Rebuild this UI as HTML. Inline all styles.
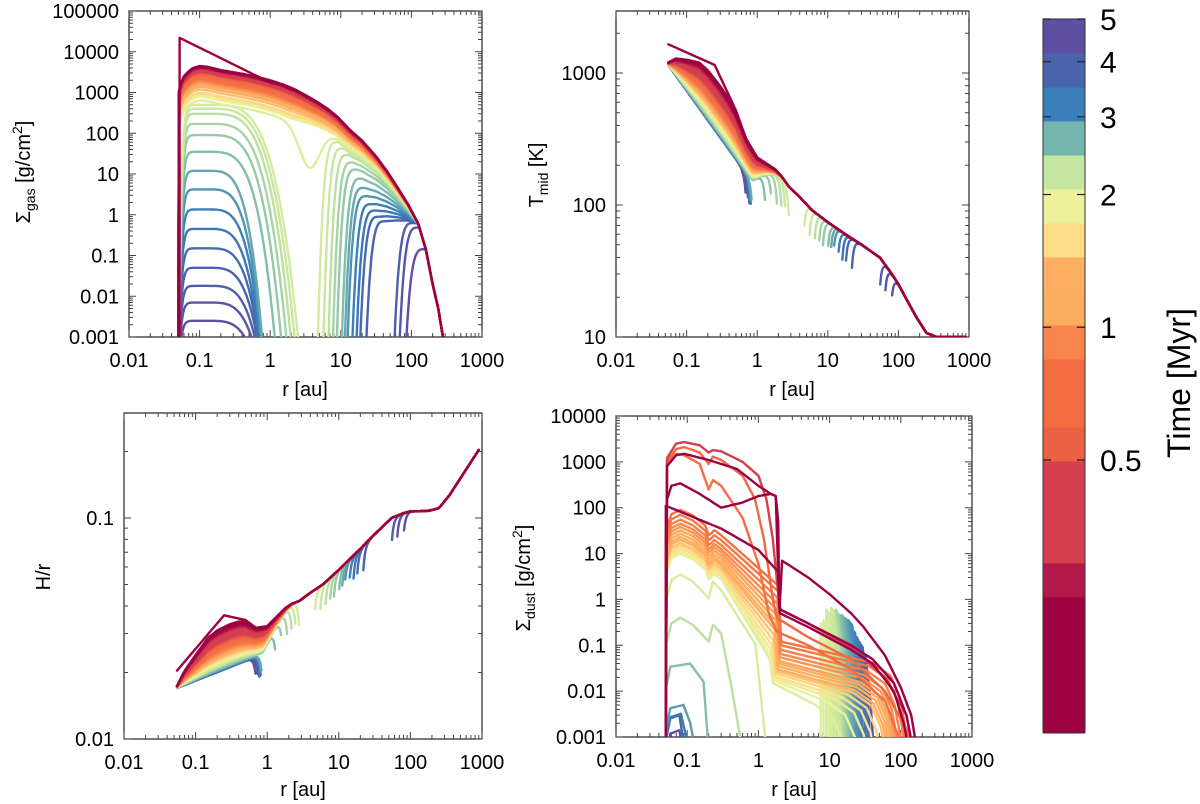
<!DOCTYPE html>
<html><head><meta charset="utf-8"><style>
html,body{margin:0;padding:0;background:#fff;}
svg{display:block;font-family:"Liberation Sans",Arial,sans-serif;}
</style></head><body>
<svg id="chart" width="1200" height="804" viewBox="0 0 1200 804" xmlns="http://www.w3.org/2000/svg">
<rect x="0" y="0" width="1200" height="804" fill="#fff"/>
<defs>
<clipPath id="c1"><rect x="129" y="11" width="353" height="326"/></clipPath>
<clipPath id="c2"><rect x="616" y="11" width="353" height="326"/></clipPath>
<clipPath id="c3"><rect x="124" y="413" width="358" height="326"/></clipPath>
<clipPath id="c4"><rect x="616" y="416" width="356" height="321"/></clipPath>
</defs>
<text x="30" y="172" font-size="20" text-anchor="middle" transform="rotate(-90 30 172)">Σ<tspan font-size="14" dy="5">gas</tspan><tspan dy="-5"> [g/cm</tspan><tspan font-size="14" dy="-8">2</tspan><tspan dy="8">]</tspan></text>
<text x="543" y="175" font-size="20" text-anchor="middle" transform="rotate(-90 543 175)">T<tspan font-size="14" dy="5">mid</tspan><tspan dy="-5"> [K]</tspan></text>
<text x="50" y="577" font-size="20" text-anchor="middle" transform="rotate(-90 50 577)">H/r</text>
<text x="530" y="578" font-size="20" text-anchor="middle" transform="rotate(-90 530 578)">Σ<tspan font-size="14" dy="5">dust</tspan><tspan dy="-5"> [g/cm</tspan><tspan font-size="14" dy="-8">2</tspan><tspan dy="8">]</tspan></text>
<text x="305" y="396" font-size="20" text-anchor="middle">r [au]</text>
<text x="792" y="396" font-size="20" text-anchor="middle">r [au]</text>
<text x="303" y="796" font-size="20" text-anchor="middle">r [au]</text>
<text x="794" y="796" font-size="20" text-anchor="middle">r [au]</text>
<text x="1190" y="383" font-size="32" text-anchor="middle" transform="rotate(-90 1190 383)">Time [Myr]</text>
</svg>
<script>
// ---------- data ----------
const cbColors = ['#9e0142','#9e0142','#9e0142','#9e0142','#b3184b','#d53e4f','#d53e4f','#d53e4f','#ec6146','#f46d43','#f46d43','#f7844d','#fcae60','#fdae61','#fddc87','#ecf29b','#c5e6a0','#74b5ad','#3a7fb9','#4a63ad','#5e4fa2'];
const cbTickVals = [5,4,3,2,1,0.5];
const cbTickLabels = ['5','4','3','2','1','0.5'];

// gas envelope (log10 values)
const envR1 = [0.05,0.0502,0.055,0.06,0.07,0.08,0.1,0.13,0.2,0.3,0.5,0.7,1,1.5,2.2,3.2,4.6,6.5,9,13.5,20,32,45,63,90,125,160,200,240,280,330];
const envL1 = [-4,3.0,3.25,3.4,3.52,3.6,3.65,3.63,3.55,3.5,3.43,3.37,3.3,3.2,3.08,2.93,2.77,2.6,2.4,2.08,1.82,1.42,1.07,0.68,0.25,-0.22,-0.85,-1.7,-2.3,-3,-4];
const gasInitR = [0.052,0.0521,1,1.5,2.2,3.2,4.6,6.5,9,13.5,20,32,45,63,90,125,160,200,240,280,330];
const gasInitV = [1e-4,22000,1750,1585,1200,850,590,400,250,120,66,26,11.7,4.8,1.78,0.6,0.14,0.02,0.005,0.001,1e-4];
const gasTimes = [0.15,0.2,0.25,0.3,0.35,0.4,0.45,0.5,0.6,0.7,0.8,0.9,1.0,1.1,1.25,1.4,1.55,1.7,1.85,2.0,2.1,2.2,2.3,2.4,2.5,2.6,2.8,3.0,3.2,3.4,3.6,3.8,4.0,4.3,4.6];
const gasPeak = [4500,4300,4100,3900,3700,3500,3300,3100,2800,2500,2200,2000,1800,1600,1400,1200,1000,900,800,650,500,400,300,170,90,35,12,4.2,1.35,0.45,0.15,0.05,0.018,0.007,0.0025];
const gapIn = [0,0,0,0,0,0,0,0,0,0,0,0,0,0,0,0,0,0,0,3.6,2.8,2.5,2.2,1.9,1.6,1.3,0.85,0.83,0.82,0.8,0.8,0.8,0.78,0.75,0.7];
const gapOut = [0,0,0,0,0,0,0,0,0,0,0,0,0,0,0,0,0,0,0,3.6,4.6,5.5,6.5,7.5,8.5,10,11,12,14,16,18,22,55,65,80];
const gapDepth = [0,0,0,0,0,0,0,0,0,0,0,0,0,0,0,0,0,0,0,1.0,9,9,9,9,9,9,9,9,9,9,9,9,9,9,9];

// temperature (log10 values)
const tempEnvR = [0.055,0.07,0.1,0.15,0.2,0.3,0.4,0.5,0.7,1,1.3,1.8,2.2,2.8,4,6,10,20,30,55,80,100,132,180,250,350,900];
const tempEnvL = [3.08,3.11,3.1,3.08,3.02,2.9,2.8,2.7,2.5,2.36,2.32,2.27,2.22,2.14,2.06,1.96,1.87,1.76,1.7,1.6,1.48,1.4,1.28,1.15,1.03,1.0,1.0];
const tempLateR = [0.055,0.85];
const tempLateT = [1150,150];
const tempInitR = [0.055,0.25,0.5,0.7,1,1.3,1.8,2.2,2.8,4,6,10,20,30,55,80,100,132,180,250,350,900];
const tempInitT = [1650,1150,520,316,229,209,186,166,138,115,91,74,57,50,40,30,25,19,14,10.7,10,10];
const tempBlend = [0,0.05,0.1,0.15,0.2,0.25,0.3,0.35,0.4,0.45,0.5,0.55,0.6,0.63,0.66,0.7,0.73,0.76,0.8,0.82,0.84,0.86,0.88,0.9,0.92,0.94,0.96,0.97,0.98,0.99,1,1,1,1,1];
const hrCoef = [0.00214];

// dust
const dustInit0 = [[0.05,0.0005],[0.0501,110],[0.3,35],[1,12],[1.9,4],[2.0,0.8],[2.15,7],[5,3],[10,1.3],[20,0.5],[30,0.25],[60,0.06],[100,0.012],[140,0.003],[170,0.0005]];
const dustRed1 = [[0.05,0.0005],[0.052,800],[0.07,1400],[0.09,1500],[0.2,1100],[0.5,700],[1,300],[1.5,200],[1.75,180],[1.9,50],[1.95,2],[2.0,0.7],[2.05,0.6],[5,0.3],[20,0.1],[40,0.05],[80,0.015],[120,0.003],[150,0.0005]];
const dustRed2 = [[0.05,0.0005],[0.052,150],[0.06,300],[0.08,340],[0.15,200],[0.3,100],[0.6,130],[1.0,180],[1.5,200],[1.75,180],[1.95,1],[2.0,0.5],[5,0.25],[20,0.08],[40,0.04],[80,0.01],[110,0.002],[130,0.0005]];
const dustRed3 = [[0.05,0.0005],[0.052,1200],[0.07,2500],[0.09,2700],[0.15,2300],[0.2,1600],[0.23,1800],[0.3,1700],[0.6,1000],[1,500],[1.3,150],[1.6,20],[1.8,3],[2,0.6],[5,0.3],[20,0.09],[60,0.02],[120,0.003],[150,0.0005]];
const dustRed4 = [[0.05,0.0005],[0.052,1000],[0.07,1900],[0.09,2100],[0.15,1600],[0.2,900],[0.23,1300],[0.3,1100],[0.6,500],[0.9,150],[1.2,20],[1.6,1],[1.8,0.4],[5,0.15],[20,0.05],[60,0.01],[120,0.0015],[140,0.0005]];
const dustRed5 = [[0.05,0.0005],[0.052,900],[0.07,1500],[0.09,1400],[0.15,900],[0.2,250],[0.23,400],[0.3,300],[0.6,60],[1,6],[1.4,0.5],[1.8,0.2],[5,0.1],[20,0.03],[60,0.006],[110,0.0005]];
const dustRedTimes = [0.12,0.13,0.14,0.45,0.6,0.7];
const dustAT = [0.8,0.85,0.9,0.95,1.0,1.07,1.15,1.23,1.32,1.42,1.52,1.63,1.75,1.87,2.0];
const dustAP = [90,70,55,45,38,32,27,23,20,17,15,13,11.5,10.5,10];
const dustAR1 = [1.9,1.9,1.85,1.85,1.8,1.8,1.75,1.7,1.7,1.65,1.6,1.55,1.5,1.5,1.45];
const dustAV1 = [2,1.5,1.1,0.8,0.6,0.45,0.35,0.28,0.22,0.17,0.13,0.1,0.08,0.06,0.05];
const dustAV2 = [0.12,0.1,0.08,0.065,0.055,0.045,0.04,0.035,0.03,0.027,0.024,0.021,0.019,0.017,0.015];
const dustAEnd = [130,120,110,100,95,90,85,80,75,70,60,50,40,30,20];
const domeT = [2.05,2.3,2.6,2.9,3.3,3.8,4.4];
const domeP = [3.5,0.4,0.04,0.005,0.0032,0.003,0.0014];
const domeEnd = [1.3,0.6,0.2,0.13,0.11,0.1,0.1];
const ringR = [7.5,8.2,9,9.8,10.6,11.4,12.2,13,14,15,16,17,18.5,20,22,24,26,28,31];
const ringH = [0.3,0.35,0.6,0.5,0.65,0.55,0.6,0.5,0.45,0.45,0.4,0.38,0.35,0.3,0.2,0.15,0.12,0.1,0.06];
const ringT = [2.0,2.05,2.1,2.15,2.2,2.3,2.4,2.5,2.6,2.7,2.8,2.9,3.0,3.1,3.2,3.4,3.6,3.9,4.3];

// ---------- helpers ----------
const NS='http://www.w3.org/2000/svg';
const svg=document.getElementById('chart');
const L=Math.log10;
function mk(tag, attrs, parent){const e=document.createElementNS(NS,tag);for(const k in attrs)e.setAttribute(k,attrs[k]);(parent||svg).appendChild(e);return e;}
function hex(c){return [parseInt(c.substr(1,2),16),parseInt(c.substr(3,2),16),parseInt(c.substr(5,2),16)];}
function tColor(t){
  let p=(L(t)-L(0.12))/(L(5)-L(0.12)); p=Math.max(0,Math.min(1,p));
  let f=p*21-0.5; f=Math.max(0,Math.min(20,f)); const i=Math.min(19,Math.floor(f)); const w=f-i;
  const a=hex(cbColors[i]), b=hex(cbColors[i+1]);
  return 'rgb('+a.map((v,k)=>Math.round(v+(b[k]-v)*w)).join(',')+')';
}
function interpL(xs, ls, r){ // xs radii, ls log10 values; returns log10
  if(r<=xs[0]) return ls[0];
  if(r>=xs[xs.length-1]) return ls[ls.length-1];
  const lr=L(r);
  for(let i=0;i<xs.length-1;i++){
    if(r>=xs[i]&&r<=xs[i+1]){const a=L(xs[i]),b=L(xs[i+1]);const w=b>a?(lr-a)/(b-a):0;return ls[i]+w*(ls[i+1]-ls[i]);}
  }
  return ls[ls.length-1];
}
function interpLog(xs, ys, r){return Math.pow(10,interpL(xs,ys.map(L),r));}
function logGrid(r0,r1,n){const a=[];for(let i=0;i<=n;i++)a.push(Math.pow(10,L(r0)+(L(r1)-L(r0))*i/n));return a;}
function densify(pts){const out=[];for(let i=0;i<pts.length-1;i++){const [r0,v0]=pts[i],[r1,v1]=pts[i+1];const n=6;for(let k=0;k<n;k++){const w=k/n;out.push([Math.pow(10,L(r0)+w*(L(r1)-L(r0))),Math.pow(10,L(v0)+w*(L(v1)-L(v0)))]);}}out.push(pts[pts.length-1]);return out;}

const panels={
 gas:{x0:129,x1:482,y0:11,y1:337,lx0:-2,lx1:3,ly0:-3,ly1:5,clip:'c1'},
 temp:{x0:616,x1:969,y0:11,y1:337,lx0:-2,lx1:3,ly0:1,ly1:1+326/132,clip:'c2'},
 hr:{x0:124,x1:482,y0:413,y1:739,lx0:-2,lx1:3,ly0:-2,ly1:-1+105/221,clip:'c3'},
 dust:{x0:616,x1:972,y0:416,y1:737,lx0:-2,lx1:3,ly0:-3,ly1:4,clip:'c4'}
};
function sx(p,r){return p.x0+(L(r)-p.lx0)/(p.lx1-p.lx0)*(p.x1-p.x0);}
function sy(p,v){v=Math.max(v,1e-8);return p.y1-(L(v)-p.ly0)/(p.ly1-p.ly0)*(p.y1-p.y0);}
function fmt(k){return k<0?Math.pow(10,k).toFixed(-k):String(Math.round(Math.pow(10,k)));}

function drawAxes(name,p){
  const g=mk('g',{});
  
  
  const box=mk('rect',{x:p.x0,y:p.y0,width:p.x1-p.x0,height:p.y1-p.y0,fill:'none',stroke:'#222','stroke-width':1.2},g);
  
  
  let d='';
  for(let k=Math.floor(p.lx0);k<=Math.ceil(p.lx1);k++){
    for(let m=1;m<10;m++){
      const lv=k+L(m); if(lv<p.lx0-1e-9||lv>p.lx1+1e-9) continue;
      const x=sx(p,Math.pow(10,lv)); const len=m===1?7:4;
      d+=`M${x},${p.y1}v${-len}M${x},${p.y0}v${len}`;
    }
  }
  for(let k=Math.floor(p.ly0);k<=Math.ceil(p.ly1);k++){
    for(let m=1;m<10;m++){
      const lv=k+L(m); if(lv<p.ly0-1e-9||lv>p.ly1+1e-9) continue;
      const y=sy(p,Math.pow(10,lv)); const len=m===1?7:4;
      d+=`M${p.x0},${y}h${len}M${p.x1},${y}h${-len}`;
    }
  }
  const ticks=mk('path',{d:d,stroke:'#444','stroke-width':1,fill:'none'},g);
  
  
  for(let k=Math.ceil(p.lx0);k<=Math.floor(p.lx1);k++){
    const t=mk('text',{x:sx(p,Math.pow(10,k)),y:p.y1+30,'font-size':20,'text-anchor':'middle'},g);
    t.textContent=fmt(k);
    
    
  }
  for(let k=Math.ceil(p.ly0-1e-9);k<=Math.floor(p.ly1+1e-9);k++){
    const t=mk('text',{x:p.x0-10,y:sy(p,Math.pow(10,k))+7,'font-size':20,'text-anchor':'end'},g);
    t.textContent=fmt(k);
    
    
  }
}
function curveGroup(name,p){
  const g=mk('g',{'clip-path':'url(#'+p.clip+')'});
  
  
  return g;
}
function drawLine(g,p,pts,color,nm){
  let d='';let pen=false;
  for(const [r,v] of pts){ if(v==null){pen=false;continue;} d+=(pen?'L':'M')+sx(p,r).toFixed(1)+','+sy(p,v).toFixed(1); pen=true; }
  const path=mk('path',{d:d,fill:'none',stroke:color,'stroke-width':2.4,'stroke-linejoin':'round','stroke-linecap':'round'},g);
  
  
}

// ---------- panel 1: gas ----------
drawAxes('gas',panels.gas);
(function(){
  const p=panels.gas; const g=curveGroup('gas',p);
  const grid=logGrid(0.05,400,480);
  function weight(r){return r<=2?1:(r>=125?0:1-(L(r)-L(2))/(L(125)-L(2)));}
  for(let i=gasTimes.length-1;i>=0;i--){
    const s=gasPeak[i]/4500; const ls=L(s); const pts=[];
    const base=r=>interpL(envR1,envL1,r)+weight(r)*ls;
    const isGap=gapDepth[i]>1;
    const lpk=L(0.12), lP=L(gasPeak[i]);
    const lrc=isGap?L(gapIn[i]):0, lrg=isGap?L(gapOut[i]):0, lpo=lrg+0.3;
    const bpo=isGap?base(Math.pow(10,lpo)):0;
    for(const r of grid){
      const lx=L(r); let lv;
      if(isGap){
        if(lx<=lrc){
          if(lx>=lpk){const u=(lx-lpk)/(lrc-lpk);lv=lP-(lP+4)*Math.pow(u,4);}
          else{const u=(lpk-lx)/(lpk-L(0.05));lv=lP-(lP+4)*Math.pow(u,10);}
        } else if(lx<lrg){ pts.push([r,null]); continue; }
        else if(lx<lpo){const u=(lpo-lx)/(lpo-lrg);lv=bpo-(bpo+4)*Math.pow(u,4);}
        else lv=base(r);
      } else {
        lv=base(r);
        if(gapDepth[i]>0){const u=(lx-L(gapIn[i]))/0.2;lv-=gapDepth[i]*Math.exp(-u*u);}
      }
      pts.push([r,Math.pow(10,lv)]);
    }
    drawLine(g,p,pts,tColor(gasTimes[i]),'gas-profile-t'+gasTimes[i]);
  }
  const ip=gasInitR.map((r,k)=>[r,gasInitV[k]]);
  drawLine(g,p,densify(ip),tColor(0.12),'gas-profile-initial');
})();

// ---------- panels 2 & 3: temperature, H/r ----------
drawAxes('temp',panels.temp);
drawAxes('hr',panels.hr);
(function(){
  const pT=panels.temp,pH=panels.hr;
  const gT=curveGroup('temp',pT), gH=curveGroup('hr',pH);
  const grid=logGrid(0.055,900,400);
  for(let i=gasTimes.length-1;i>=0;i--){
    const b=tempBlend[i]; const hasGap=gapDepth[i]>1;
    const rc=gapIn[i], rg=gapOut[i];
    const pts=[];
    for(const r of grid){
      if(hasGap && r>rc && r<rg){pts.push([r,null]);continue;}
      let wr=r<=0.9?1:(r>=3?0:1-(L(r)-L(0.9))/(L(3)-L(0.9)));
      const bb=b*wr;
      let lT=(1-bb)*interpL(tempEnvR,tempEnvL,r)+bb*L(interpLog(tempLateR,tempLateT,r));
      let T=Math.pow(10,lT);
      if(hasGap){
        if(r<=rc) T*=1-0.4*Math.exp(-(L(rc)-L(r))/0.03);
        if(r>=rg) T*=1-0.4*Math.exp(-(L(r)-L(rg))/0.03);
      }
      pts.push([r,T]);
    }
    const col=tColor(gasTimes[i]);
    drawLine(gT,pT,pts,col,'temp-profile-t'+gasTimes[i]);
    const hp=pts.map(([r,T])=>[r,T==null?null:hrCoef[0]*Math.sqrt(T*r)]);
    drawLine(gH,pH,hp,col,'hr-profile-t'+gasTimes[i]);
  }
  const ip=densify(tempInitR.map((r,k)=>[r,tempInitT[k]]));
  drawLine(gT,pT,ip,tColor(0.12),'temp-profile-initial');
  drawLine(gH,pH,ip.map(([r,T])=>[r,hrCoef[0]*Math.sqrt(T*r)]),tColor(0.12),'hr-profile-initial');
})();

// ---------- panel 4: dust ----------
drawAxes('dust',panels.dust);
(function(){
  const p=panels.dust; const g=curveGroup('dust',p);
  for(let i=ringR.length-1;i>=0;i--){
    const r=ringR[i],h=ringH[i];
    drawLine(g,p,[[r,0.0005],[r,h],[r*1.04,h*0.9],[r*1.2,h*0.12],[r*1.35,0.0005]],tColor(ringT[i]),'dust-ring-spike');
  }
  for(let i=domeT.length-1;i>=0;i--){
    const P=domeP[i],e=domeEnd[i];let pts;
    if(e<0.25){const pk=Math.sqrt(0.05*e)*1.1;pts=[[0.05,0.0005],[0.0505,P*0.3],[0.058,P*0.85],[pk,P],[e*0.85,P*0.4],[e,0.0005]];}
    else{pts=[[0.05,0.0005],[0.0502,P*0.25],[0.06,P*0.75],[0.08,P],[0.12,P*0.7],[0.19,P*0.33],[0.2,P*0.3],[0.23,P*0.7],[0.3,P*0.45]].filter(q=>q[0]<e*0.6);pts.push([e*0.7,P*0.03],[e,0.0005]);}
    drawLine(g,p,densify(pts),tColor(domeT[i]),'dust-profile-t'+domeT[i]);
  }
  for(let i=dustAT.length-1;i>=0;i--){
    const P=dustAP[i],r1=dustAR1[i],V1=dustAV1[i],V2=dustAV2[i],e=dustAEnd[i];
    const pts=[[0.05,0.0005],[0.0502,P*0.35],[0.06,P*0.8],[0.08,P],[0.12,P*0.75],[0.18,P*0.45],[0.2,P*0.28],[0.215,P*0.3],[0.24,P*0.36],[0.3,P*0.28],[r1,V1],[r1*1.1,V2],[e*0.3,V2*0.35],[e*0.55,V2*0.18],[e*0.75,V2*0.06],[e*0.9,V2*0.012],[e,0.0005]];
    drawLine(g,p,densify(pts),tColor(dustAT[i]),'dust-profile-t'+dustAT[i]);
  }
  const reds=[dustInit0,dustRed1,dustRed2,dustRed3,dustRed4,dustRed5];
  for(let i=reds.length-1;i>=0;i--){
    drawLine(g,p,densify(reds[i]),tColor(dustRedTimes[i]),'dust-profile-t'+dustRedTimes[i]);
  }
})();

// ---------- colorbar ----------
(function(){
  const x0=1043,x1=1085,yb=733,bh=34;
  const g=mk('g',{});
  
  
  cbColors.forEach((c,k)=>{
    const r=mk('rect',{x:x0,y:yb-(k+1)*bh,width:x1-x0,height:bh+0.5,fill:c},g);
    
    
  });
  const f=mk('rect',{x:x0,y:yb-21*bh,width:x1-x0,height:21*bh,fill:'none',stroke:'#333','stroke-width':1},g);
  
  
  cbTickVals.forEach((v,k)=>{
    const y=19+(L(5)-L(v))*441;
    const t=mk('path',{d:`M${x0},${y}h8M${x1},${y}h-8`,stroke:'#222','stroke-width':1.2},g);
    
    
    const tx=mk('text',{x:1100,y:y+11,'font-size':30},g);
    tx.textContent=cbTickLabels[k];
    
    
  });
})();
</script>
</body></html>
